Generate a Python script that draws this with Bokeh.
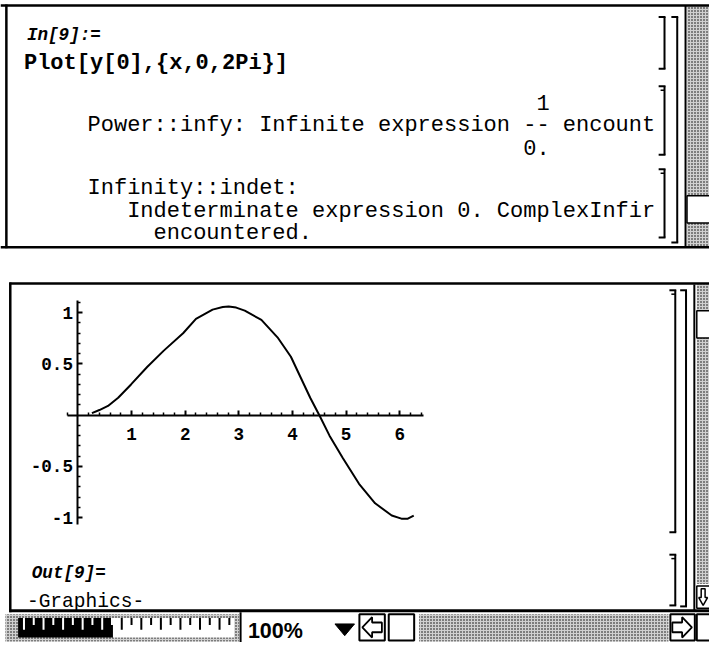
from bokeh.plotting import figure
from bokeh.models import Range1d, LinearAxis, FixedTicker
from bokeh.core.properties import value
from bokeh.embed import file_html
from bokeh.resources import INLINE

# ---------------- chart data ----------------
curve_x = [0.26, 0.40, 0.56, 0.75, 0.99, 1.29, 1.60, 1.96, 2.20, 2.51, 2.70,
           2.81, 2.95, 3.11, 3.42, 3.72, 3.97, 4.15, 4.33, 4.51, 4.69, 4.94,
           5.24, 5.54, 5.85, 6.03, 6.15, 6.26]
curve_y = [0.02, 0.05, 0.09, 0.17, 0.30, 0.47, 0.63, 0.80, 0.94, 1.03, 1.055,
           1.06, 1.05, 1.02, 0.93, 0.76, 0.57, 0.37, 0.17, -0.01, -0.20, -0.42,
           -0.67, -0.86, -0.98, -1.01, -1.01, -0.98]
x_ticks = [1, 2, 3, 4, 5, 6]
y_ticks = [-1, -0.5, 0.5, 1]
y_tick_labels = ["-1", "-0.5", "0.5", "1"]
x_minor_ticks = [round(i * 0.2, 1) for i in range(-1, 33) if i % 5 != 0]
y_minor_ticks = [round(i * 0.1, 1) for i in range(-10, 12) if i % 5 != 0]

input_label = "In[9]:="
input_text = "Plot[y[0],{x,0,2Pi}]"
msg1_num = "1"
msg1_line = "Power::infy: Infinite expression -- encount"
msg1_den = "0."
msg2_lines = ["Infinity::indet:",
              "Indeterminate expression 0. ComplexInfir",
              "encountered."]
output_label = "Out[9]="
output_text = "-Graphics-"
zoom_text = "100%"

# ---------------- layout constants (reference pixel space 725x658) ----------------
X0, SX = 79.2, 54.85       # pixel of x=0, pixels per unit
Y0, SY = 425.0, 105.0      # pixel of y=0, pixels per unit
RW, RH = 725, 658          # reference size
W, H = 709, 642            # canvas size
K = W / RW                 # screen scale
MONO = "Liberation Mono"
CH = 13.5                  # character advance of message font


def fs(px):
    return f"{px * K:.2f}px"


p = figure(width=W, height=H, x_range=Range1d(0, RW), y_range=Range1d(RH, 0),
           output_backend="svg", toolbar_location=None,
           x_axis_location=None, y_axis_location=None, min_border=0)
p.outline_line_color = None
p.background_fill_color = "white"
p.grid.visible = False
p.extra_x_ranges = {"mx": Range1d((0 - X0) / SX, (RW - X0) / SX)}
p.extra_y_ranges = {"my": Range1d((Y0 - RH) / SY, (Y0 - 0) / SY)}

segs = {"x0": [], "y0": [], "x1": [], "y1": [], "w": []}


def seg(x0, y0, x1, y1, w=2):
    segs["x0"].append(x0); segs["y0"].append(y0)
    segs["x1"].append(x1); segs["y1"].append(y1); segs["w"].append(w)


def box(l, t, r, b, fill="white", line="black", lw=2, **kw):
    p.quad(left=l, right=r, top=t, bottom=b, fill_color=fill,
           line_color=line, line_width=lw, **kw)


def pattern(l, t, r, b):
    p.quad(left=l, right=r, top=t, bottom=b, fill_color="#d0d0d0",
           line_color=None, hatch_pattern="dot", hatch_scale=3,
           hatch_color="black", hatch_weight=1.2)


def bracket(x, y0, y1, hook=6, notch=True):
    seg(x, y0, x, y1)
    seg(x - hook, y0, x + 1, y0)
    seg(x - hook, y1, x + 1, y1)
    if notch:
        seg(x - hook + 2, y0 + 4, x, y0 + 4, 1.5)


def text(x, y, s, size, style="normal", font=MONO, align="left"):
    p.text(x=[x], y=[y], text=[s], text_font=value(font), text_font_size=fs(size),
           text_font_style=style, text_color="black", text_baseline="alphabetic",
           text_align=align)


# ---------------- top notebook window ----------------
pattern(702, 6, 726, 252)
box(702, 200, 726, 228, lw=1.5)
seg(0, 5, 726, 5, 2.5)
seg(6, 4, 6, 254, 2.5)
seg(0, 253, 726, 253, 2.5)
seg(700.5, 5, 700.5, 253, 2)
bracket(679, 17, 70, notch=False)
bracket(692, 17, 248, notch=False)
bracket(679, 88, 158)
bracket(679, 173, 243)

text(27, 35, input_label, 18, "bold italic")
text(24, 65, input_text, 22.5, "bold")
text(89 + 34 * CH, 105, msg1_num, 22.5)
text(89, 128, msg1_line, 22.5)
text(89 + 33 * CH, 151, msg1_den, 22.5)
text(89, 193, msg2_lines[0], 22.5)
text(89 + 3 * CH, 216, msg2_lines[1], 22.5)
text(89 + 5 * CH, 239, msg2_lines[2], 22.5)

# ---------------- lower notebook window ----------------
pattern(712, 291, 726, 598)
box(712, 318, 726, 346, lw=1.5)
box(712, 600, 726, 623, lw=1.5)
p.patch([718.5, 714, 716.5, 716.5, 720.5, 720.5, 723],
        [620, 612, 612, 603, 603, 612, 612], fill_color="white",
        line_color="black", line_width=1.5)
seg(9, 290, 726, 290, 2.5)
seg(10, 289, 10, 627, 2.5)
seg(709.5, 291, 709.5, 625, 2)
bracket(690, 297, 545)
bracket(690, 568, 620)
bracket(701, 297, 621, notch=False)

text(32, 587, output_label, 18, "bold italic")
text(27, 616, output_text, 20)

# ---------------- status bar ----------------
box(0, 627, 726, 660, fill="white", line=None, lw=0)
seg(9, 625.5, 726, 625.5, 3)
pattern(5, 629, 244, 657)
box(18, 633, 115, 653, fill="black", line=None, lw=0)
box(115, 633, 239, 653, fill="white", line=None, lw=0)
for i, tx in enumerate(range(0, 220, 10)):
    xx = 24 + tx
    if xx > 236:
        break
    colr = "white" if xx < 115 else "black"
    h = 12 if i % 2 == 0 else 7
    p.segment(x0=[xx], y0=[633], x1=[xx], y1=[633 + h], line_color=colr, line_width=2)
seg(245.5, 627, 245.5, 660, 2)
text(253, 646, zoom_text, 22, "bold", font="Liberation Sans")
p.patch([342, 362, 352], [639, 639, 651], fill_color="black", line_color="black")
box(367, 629, 393, 656, lw=2)
p.patch([370, 380, 380, 390, 390, 380, 380], [642.5, 632, 637.5, 637.5, 647.5, 647.5, 653],
        fill_color="white", line_color="black", line_width=1.8)
box(397, 629, 423, 656, lw=2)
pattern(428, 629, 683, 657)
box(685, 629, 710, 656, lw=2)
p.patch([707, 697, 697, 687, 687, 697, 697], [642.5, 632, 637.5, 637.5, 647.5, 647.5, 653],
        fill_color="white", line_color="black", line_width=1.8)
box(712, 629, 726, 656, lw=2)

p.segment(x0="x0", y0="y0", x1="x1", y1="y1", line_width="w", line_color="black",
          source=segs)

# ---------------- the Mathematica plot ----------------
p.line(curve_x, curve_y, x_range_name="mx", y_range_name="my",
       line_width=2, line_color="black")

common = dict(x_range_name="mx", y_range_name="my", fixed_location=0,
              major_tick_in=5, major_tick_out=0, minor_tick_in=3, minor_tick_out=0,
              major_tick_line_width=2, minor_tick_line_width=1.5,
              axis_line_width=2, axis_line_color="black",
              major_tick_line_color="black", minor_tick_line_color="black",
              major_label_text_font=MONO, major_label_text_font_style="bold",
              major_label_text_font_size=fs(18), major_label_text_color="black")
xaxis = LinearAxis(bounds=(-0.2, 6.45),
                   ticker=FixedTicker(ticks=x_ticks, minor_ticks=x_minor_ticks),
                   major_label_standoff=13, **common)
p.add_layout(xaxis, "below")
yaxis = LinearAxis(bounds=(-1.064, 1.117),
                   ticker=FixedTicker(ticks=y_ticks, minor_ticks=y_minor_ticks),
                   major_label_standoff=5,
                   major_label_overrides={float(k): v for k, v in zip(y_ticks, y_tick_labels)},
                   **common)
p.add_layout(yaxis, "left")

open("out.html", "w").write(file_html(p, INLINE))
